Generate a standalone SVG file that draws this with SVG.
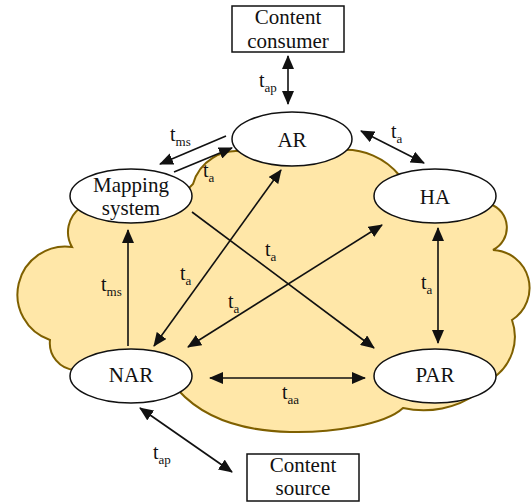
<svg xmlns="http://www.w3.org/2000/svg" width="531" height="502" viewBox="0 0 531 502">
  <style>
    text { font-family: "Liberation Serif", "Times New Roman", serif; fill: #111; }
    .lbl { font-size: 21px; text-anchor: middle; }
    .t { font-size: 20px; }
    .sub { font-size: 13px; }
    .node { fill: #fff; stroke: #111; stroke-width: 1.5; }
    .box { fill: #fff; stroke: #111; stroke-width: 1.5; }
    .edge { stroke: #111; stroke-width: 1.6; fill: none; }
    .one { marker-end: url(#head); }
    .two { marker-start: url(#head); marker-end: url(#head); }
  </style>
  <defs>
    <marker id="head" markerUnits="userSpaceOnUse" markerWidth="14" markerHeight="12" refX="13" refY="6" orient="auto-start-reverse" viewBox="0 0 14 12">
      <path d="M0,0 L14,6 L0,12 Z" fill="#111"/>
    </marker>
  </defs>

  <!-- access network cloud -->
  <path id="cloud" fill="#FFE7A8" stroke="#7F6000" stroke-width="2"
        d="M186,191 L193,184 A45,45 0 0,1 245,152 L340,150 A70,70 0 0,1 400,176 L490,204
           A25,25 0 0,1 493,250 A38,38 0 0,1 512,320 A50,50 0 0,1 493,378 L478,393
           A94,94 0 0,1 403,408 C385,425 330,433 290,432 C245,431 205,420 178,390 L75,370
           A27,27 0 0,1 50,340 A48,48 0 0,1 72,247 A30,30 0 0,1 80,208 Z"/>

  <!-- connectors -->
  <g id="connectors">
    <line class="edge two" x1="288" y1="56" x2="288" y2="104"/>
    <line class="edge one" x1="226" y1="136" x2="160" y2="164"/>
    <line class="edge one" x1="174" y1="172" x2="232" y2="148"/>
    <line class="edge two" x1="361" y1="131" x2="424" y2="163"/>
    <line class="edge two" x1="154" y1="346" x2="281" y2="170"/>
    <line class="edge two" x1="188" y1="347" x2="382" y2="225"/>
    <line class="edge one" x1="192" y1="212" x2="374" y2="348"/>
    <line class="edge one" x1="128" y1="346" x2="128" y2="230"/>
    <line class="edge two" x1="438" y1="228" x2="438" y2="343"/>
    <line class="edge two" x1="210" y1="378" x2="365" y2="378"/>
    <line class="edge two" x1="140" y1="408" x2="232" y2="472"/>
  </g>

  <!-- link delay labels -->
  <g id="labels">
    <text class="t" x="259" y="87">t<tspan class="sub" dy="5">ap</tspan></text>
    <text class="t" x="170" y="141">t<tspan class="sub" dy="5">ms</tspan></text>
    <text class="t" x="203" y="177">t<tspan class="sub" dy="5">a</tspan></text>
    <text class="t" x="391" y="138">t<tspan class="sub" dy="5">a</tspan></text>
    <text class="t" x="180" y="280">t<tspan class="sub" dy="5">a</tspan></text>
    <text class="t" x="228" y="308">t<tspan class="sub" dy="5">a</tspan></text>
    <text class="t" x="265" y="256">t<tspan class="sub" dy="5">a</tspan></text>
    <text class="t" x="101" y="291">t<tspan class="sub" dy="5">ms</tspan></text>
    <text class="t" x="421" y="289">t<tspan class="sub" dy="5">a</tspan></text>
    <text class="t" x="282" y="399">t<tspan class="sub" dy="5">aa</tspan></text>
    <text class="t" x="153" y="459">t<tspan class="sub" dy="5">ap</tspan></text>
  </g>

  <g id="content-consumer">
    <rect class="box" x="232" y="6" width="112" height="46"/>
    <text class="lbl" x="288" y="24">Content</text>
    <text class="lbl" x="288" y="48">consumer</text>
  </g>
  <g id="ar">
    <ellipse class="node" cx="292" cy="139" rx="60" ry="27"/>
    <text class="lbl" x="292" y="147">AR</text>
  </g>
  <g id="mapping-system">
    <ellipse class="node" cx="131" cy="196" rx="61" ry="27"/>
    <text class="lbl" x="131" y="192">Mapping</text>
    <text class="lbl" x="131" y="215">system</text>
  </g>
  <g id="ha">
    <ellipse class="node" cx="435" cy="196" rx="61" ry="27"/>
    <text class="lbl" x="435" y="204">HA</text>
  </g>
  <g id="nar">
    <ellipse class="node" cx="131" cy="376" rx="61" ry="27"/>
    <text class="lbl" x="131" y="382">NAR</text>
  </g>
  <g id="par">
    <ellipse class="node" cx="435" cy="376" rx="61" ry="27"/>
    <text class="lbl" x="435" y="382">PAR</text>
  </g>
  <g id="content-source">
    <rect class="box" x="247" y="454" width="112" height="47"/>
    <text class="lbl" x="303" y="472">Content</text>
    <text class="lbl" x="303" y="495">source</text>
  </g>
</svg>
